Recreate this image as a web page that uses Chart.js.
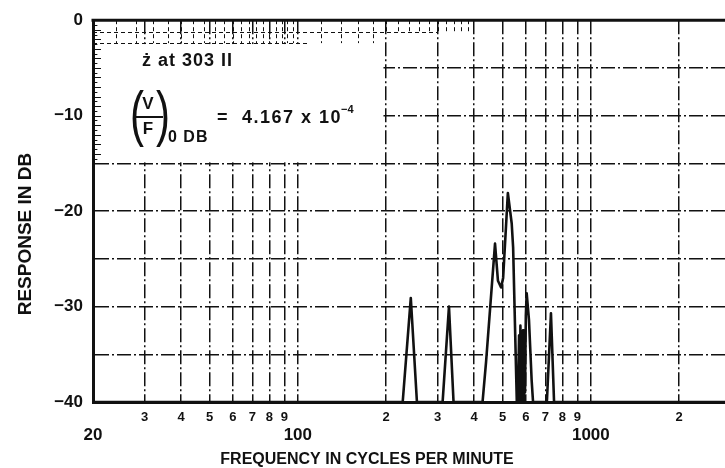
<!DOCTYPE html>
<html>
<head>
<meta charset="utf-8">
<script src="https://cdn.jsdelivr.net/npm/chart.js@4.4.1/dist/chart.umd.min.js"></script>
<style>
  html, body { margin: 0; padding: 0; background: #fff; }
  #wrap { width: 725px; height: 468px; }
</style>
</head>
<body>
<div id="wrap"><canvas id="chart" width="725" height="468"></canvas></div>
<script>
// ===== Data =====
const freq = [20, 228, 243, 255, 312, 328, 340, 427, 439, 471, 482, 494, 502, 521, 537, 543, 559,
  564, 569, 572, 575, 578, 581, 584, 587, 590, 593, 596, 600, 604, 615, 628, 635, 708, 731, 749, 2870];
const responseDb = [-40, -40, -29.1, -40, -40, -30, -40, -40, -35.8, -23.4, -27.3, -28, -27, -18.1, -21.3, -23.8, -40,
  -40, -33, -40, -32, -40, -33, -40, -32.5, -40, -34, -39, -31, -28.6, -31.4, -37.7, -40, -40, -30.7, -40, -40];

const xTicks = [20, 30, 40, 50, 60, 70, 80, 90, 100, 200, 300, 400, 500, 600, 700, 800, 900, 1000, 2000];
const xTickLabels = ['20', '3', '4', '5', '6', '7', '8', '9', '100', '2', '3', '4', '5', '6', '7', '8', '9', '1000', '2'];
const xMajor = [20, 100, 1000];
const yLabeled = [0, -10, -20, -30, -40];

const FONT = "'Liberation Sans', Arial, sans-serif";
const INK = '#111';

// ===== Plugin: paper, blank box, annotation, axis titles =====
const paperPlugin = {
  id: 'paper',
  beforeDraw(chart) {
    const c = chart.ctx;
    c.save();
    c.fillStyle = '#fff';
    c.fillRect(0, 0, chart.width, chart.height);
    c.restore();
  },
  beforeDatasetsDraw(chart) {
    const c = chart.ctx;
    const xs = chart.scales.x, ys = chart.scales.y;
    // blank label box in upper left
    c.save();
    c.fillStyle = '#fff';
    const bx = xs.getPixelForValue(20) + 2, bx2 = xs.getPixelForValue(196);
    const by = ys.getPixelForValue(-2.5), by2 = ys.getPixelForValue(-15) - 1;
    c.fillRect(bx, by, bx2 - bx, by2 - by);

    // fine graph paper remnants along top and left
    c.strokeStyle = INK;
    c.lineWidth = 1;
    c.setLineDash([4, 3]);
    const fineX = [];
    for (let f = 24; f < 100; f += 4) fineX.push(f);
    for (let f = 120; f < 400; f += 20) fineX.push(f);
    fineX.forEach(f => {
      const px = Math.round(xs.getPixelForValue(f)) + 0.5;
      c.beginPath();
      c.moveTo(px, ys.getPixelForValue(0));
      c.lineTo(px, ys.getPixelForValue(f < 200 ? -2.4 : -1.4));
      c.stroke();
    });
    [-1.2, -2.4].forEach(v => {
      const py = Math.round(ys.getPixelForValue(v)) + 0.5;
      c.beginPath();
      c.moveTo(xs.getPixelForValue(20), py);
      c.lineTo(xs.getPixelForValue(v > -2 ? 300 : 110), py);
      c.stroke();
    });
    c.setLineDash([]);
    for (let v = -0.5; v > -15; v -= 0.5) {
      const py = Math.round(ys.getPixelForValue(v)) + 0.5;
      c.beginPath();
      c.moveTo(xs.getPixelForValue(20), py);
      c.lineTo(xs.getPixelForValue(Number.isInteger(v) ? 21.3 : 20.7), py);
      c.stroke();
    }
    // heavy top frame line
    c.lineWidth = 3;
    c.beginPath();
    c.moveTo(chart.chartArea.left - 1.5, chart.chartArea.top);
    c.lineTo(chart.chartArea.right, chart.chartArea.top);
    c.stroke();
    c.restore();
  },
  afterDraw(chart) {
    const c = chart.ctx;
    c.save();
    c.fillStyle = INK;
    c.strokeStyle = INK;
    c.textBaseline = 'middle';

    // axis titles
    c.font = `bold 16px ${FONT}`;
    c.textAlign = 'center';
    c.fillText('FREQUENCY IN CYCLES PER MINUTE', 367, 460);
    c.save();
    c.translate(26, 234);
    c.rotate(-Math.PI / 2);
    c.font = `bold 19px ${FONT}`;
    c.fillText('RESPONSE IN DB', 0, 0);
    c.restore();

    // annotation
    c.textAlign = 'left';
    c.font = `bold 18px ${FONT}`;
    c.letterSpacing = '1px';
    c.fillText('ż at 303 II', 142, 61);

    c.letterSpacing = '0px';
    c.font = `42px ${FONT}`;
    c.textAlign = 'center';
    c.save();
    c.scale(1, 1.45);
    c.fillText('(', 137, 117 / 1.45);
    c.fillText(')', 163, 117 / 1.45);
    c.restore();
    c.font = `bold 17px ${FONT}`;
    c.fillText('V', 148, 104);
    c.fillText('F', 148, 129);
    c.lineWidth = 2;
    c.beginPath();
    c.moveTo(136, 117);
    c.lineTo(163, 117);
    c.stroke();
    c.textAlign = 'left';
    c.font = `bold 16px ${FONT}`;
    c.letterSpacing = '1px';
    c.fillText('0 DB', 168, 138);
    c.font = `bold 18px ${FONT}`;
    c.letterSpacing = '1.5px';
    const eq = '=  4.167 x 10';
    c.fillText(eq, 217, 118);
    const eqEnd = 217 + c.measureText(eq).width;
    c.letterSpacing = '0px';
    c.font = `bold 11px ${FONT}`;
    c.fillText('−4', eqEnd - 1, 110);
    c.restore();
  }
};

// ===== Chart =====
new Chart(document.getElementById('chart'), {
  type: 'line',
  data: {
    datasets: [{
      data: freq.map((f, i) => ({ x: f, y: responseDb[i] })),
      borderColor: INK,
      borderWidth: 2.6,
      borderJoinStyle: 'round',
      pointRadius: 0,
      tension: 0,
      fill: false,
    }]
  },
  options: {
    responsive: false,
    animation: false,
    devicePixelRatio: 1,
    layout: { padding: { top: 19, right: 0, left: 0, bottom: 0 } },
    plugins: { legend: { display: false }, tooltip: { enabled: false } },
    scales: {
      x: {
        type: 'logarithmic',
        min: 20,
        max: 2870,
        afterBuildTicks: scale => { scale.ticks = xTicks.map(v => ({ value: v })); },
        afterFit: scale => { scale.height = 66; },
        grid: { color: INK, lineWidth: 1.5, drawTicks: false },
        border: { display: true, color: INK, width: 3, dash: [14, 3, 2, 3] },
        ticks: {
          autoSkip: false,
          maxRotation: 0,
          padding: 8,
          color: INK,
          font: ctx => xMajor.includes(ctx.tick && ctx.tick.value)
            ? { family: FONT, size: 17, weight: 'bold', lineHeight: 1 }
            : { family: FONT, size: 13, weight: 'bold', lineHeight: 1.2 },
          callback: (value, i) => {
            const label = xTickLabels[xTicks.indexOf(value)];
            return xMajor.includes(value) ? ['', label] : label;
          }
        }
      },
      y: {
        min: -40,
        max: 0,
        afterFit: scale => { scale.width = 93; },
        grid: { color: INK, lineWidth: 1.5, drawTicks: false },
        border: { display: true, color: INK, width: 3, dash: [14, 3, 2, 3] },
        ticks: {
          stepSize: 5,
          padding: 10,
          color: INK,
          font: { family: FONT, size: 17, weight: 'bold' },
          callback: v => yLabeled.includes(v) ? (v === 0 ? '0' : '−' + Math.abs(v)) : ''
        }
      }
    }
  },
  plugins: [paperPlugin]
});
</script>
</body>
</html>
